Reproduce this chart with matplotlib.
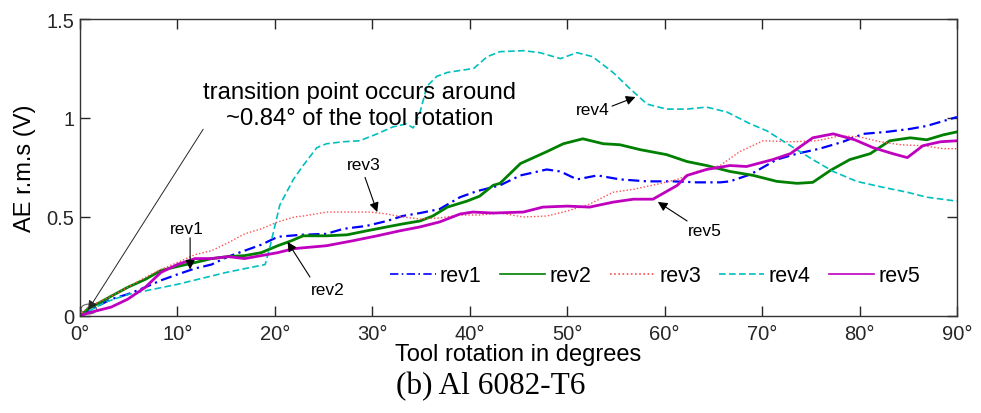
import matplotlib
matplotlib.use("Agg")
import matplotlib.pyplot as plt
from matplotlib.patches import Ellipse

# Tool rotation (degrees) and AE r.m.s. (V) for each revolution
rev1_deg = [0, 0.8, 3.2, 4.9, 6.7, 8.3, 10, 11.8, 13.5, 15.2, 16.9, 18.6, 20.3, 22.6, 25.3, 27,
            29.4, 31.5, 33.1, 34.9, 36.9, 39, 40.7, 43.1, 45.2, 47.9, 49.3, 51, 53.1, 55.4, 58.2,
            60.9, 63.3, 65.7, 66.7, 68.8, 71.5, 73.6, 75.9, 78.3, 80.4, 82.8, 85.2, 86.9, 90]
rev1_ae = [0.0, 0.025, 0.085, 0.11, 0.145, 0.18, 0.21, 0.24, 0.26, 0.30, 0.33, 0.36, 0.40, 0.41,
           0.415, 0.44, 0.455, 0.48, 0.505, 0.52, 0.54, 0.60, 0.63, 0.66, 0.71, 0.74, 0.73, 0.69,
           0.71, 0.69, 0.68, 0.68, 0.675, 0.675, 0.68, 0.715, 0.79, 0.82, 0.845, 0.88, 0.92, 0.93,
           0.945, 0.96, 1.005]

rev2_deg = [0, 0.8, 3.2, 4.9, 6.7, 8.3, 10, 11.8, 13.5, 15.2, 16.9, 18.6, 20.3, 21.7, 22.9, 25.3,
            27.4, 29.4, 31.5, 33.1, 34.9, 36.2, 37.7, 39.7, 41, 42.4, 43.1, 45.2, 47.9, 49.6, 51.6,
            53.7, 55.4, 57.5, 60.2, 62.3, 64.3, 66.7, 69.1, 71.5, 73.6, 75.2, 77, 79, 81.1, 83.1,
            85.2, 86.9, 88.6, 90]
rev2_ae = [0.0, 0.035, 0.10, 0.145, 0.185, 0.23, 0.25, 0.27, 0.29, 0.30, 0.305, 0.32, 0.355, 0.38,
           0.405, 0.405, 0.41, 0.43, 0.45, 0.465, 0.48, 0.505, 0.55, 0.58, 0.605, 0.66, 0.67, 0.77,
           0.83, 0.87, 0.895, 0.87, 0.865, 0.84, 0.815, 0.78, 0.76, 0.73, 0.71, 0.68, 0.67, 0.675,
           0.735, 0.79, 0.82, 0.885, 0.90, 0.89, 0.915, 0.93]

rev3_deg = [0, 0.8, 3.2, 4.9, 6.7, 8.3, 10, 11.8, 13.5, 15.2, 16.9, 18.6, 20.3, 22, 22.9, 25.3,
            27.4, 29.8, 31.5, 33.1, 34.9, 36.9, 39, 41, 43.1, 45.5, 47.9, 50, 52.3, 54.7, 56.8,
            59.2, 61.3, 63.3, 65.7, 67.7, 70.1, 72.9, 75.6, 78, 80, 82.1, 84.2, 86.5, 88.6, 90]
rev3_ae = [0.0, 0.045, 0.10, 0.145, 0.195, 0.235, 0.27, 0.31, 0.33, 0.37, 0.415, 0.44, 0.475, 0.50,
           0.505, 0.525, 0.525, 0.525, 0.515, 0.50, 0.49, 0.495, 0.51, 0.51, 0.52, 0.50, 0.505,
           0.53, 0.565, 0.625, 0.64, 0.665, 0.69, 0.73, 0.76, 0.83, 0.885, 0.88, 0.885, 0.91, 0.905,
           0.88, 0.865, 0.86, 0.845, 0.845]

rev4_deg = [0, 2.6, 5, 10, 15, 19, 19.5, 20.5, 21.9, 22.9, 24.3, 25.3, 27, 28.7, 30.5, 32.1, 33.5,
            34.2, 34.9, 35.6, 36.6, 37.7, 39, 40.4, 41.8, 43.1, 45.5, 47.2, 49.3, 51, 52.6, 54.7,
            56.4, 58.2, 60.2, 62.3, 64.3, 66.4, 68.8, 70.5, 72.9, 75.2, 77.3, 79.7, 82.4, 84.9,
            86.9, 90]
rev4_ae = [0.0, 0.07, 0.11, 0.16, 0.22, 0.26, 0.35, 0.56, 0.69, 0.76, 0.85, 0.87, 0.88, 0.885,
           0.92, 0.955, 0.97, 0.95, 1.03, 1.16, 1.21, 1.23, 1.24, 1.25, 1.31, 1.335, 1.34, 1.33,
           1.30, 1.33, 1.31, 1.23, 1.15, 1.07, 1.045, 1.045, 1.055, 1.03, 0.97, 0.935, 0.86, 0.79,
           0.73, 0.68, 0.65, 0.625, 0.60, 0.58]

rev5_deg = [0, 0.8, 3.2, 4.9, 6.7, 8.3, 10, 11.8, 13.5, 15.2, 16.9, 18.6, 20.3, 21.9, 25.3, 28,
            30.5, 32.8, 34.9, 36.9, 39, 40.3, 42.4, 45.5, 47.5, 50, 52.3, 54.7, 56.8, 58.8, 61.3,
            62.3, 64.3, 66.7, 68.4, 71.1, 72.9, 75.2, 77.3, 79.5, 81.4, 83.4, 84.9, 86.5, 88.3, 90]
rev5_ae = [0.0, 0.015, 0.045, 0.085, 0.145, 0.22, 0.26, 0.29, 0.29, 0.30, 0.29, 0.305, 0.32, 0.34,
           0.355, 0.38, 0.405, 0.43, 0.45, 0.475, 0.515, 0.525, 0.52, 0.525, 0.55, 0.555, 0.55,
           0.575, 0.59, 0.59, 0.66, 0.71, 0.74, 0.76, 0.755, 0.79, 0.82, 0.90, 0.92, 0.89, 0.85,
           0.82, 0.80, 0.86, 0.88, 0.885]

series_names = ["rev1", "rev2", "rev3", "rev4", "rev5"]
x_ticks = [0, 10, 20, 30, 40, 50, 60, 70, 80, 90]
x_tick_labels = ["0°", "10°", "20°", "30°", "40°", "50°", "60°", "70°", "80°", "90°"]
y_ticks = [0, 0.5, 1, 1.5]
y_tick_labels = ["0", "0.5", "1", "1.5"]

SANS = "Liberation Sans"
plt.rcParams["font.family"] = SANS

fig = plt.figure(figsize=(9.81, 4.14), dpi=100)
ax = fig.add_axes([80 / 981, 1 - 317 / 414, 877 / 981, 297 / 414])

styles = [
    dict(color=(0, 0, 1), ls=(0, (5, 2, 1, 2)), lw=1.6),
    dict(color=(0, 0.5, 0), ls="-", lw=2.0),
    dict(color=(1, 0.3, 0.3), ls=(0, (1, 1.5)), lw=1.0),
    dict(color=(0, 0.75, 0.75), ls=(0, (4, 2)), lw=1.2),
    dict(color=(0.75, 0, 0.75), ls="-", lw=2.0),
]
data = [(rev1_deg, rev1_ae), (rev2_deg, rev2_ae), (rev3_deg, rev3_ae),
        (rev4_deg, rev4_ae), (rev5_deg, rev5_ae)]
for (xd, yd), name, st in zip(data, series_names, styles):
    ax.plot(xd, yd, label=name, **st)

ax.set_xlim(0, 90)
ax.set_ylim(0, 1.5)
ax.set_xticks(x_ticks)
ax.set_xticklabels(x_tick_labels)
ax.set_yticks(y_ticks)
ax.set_yticklabels(y_tick_labels)
ax.tick_params(direction="in", length=7, width=1, top=True, right=True,
               labelsize=14.5, colors="0.15")
ax.tick_params(axis="x", pad=6)
ax.tick_params(axis="y", pad=4)
for sp in ax.spines.values():
    sp.set_color("0.2")
    sp.set_linewidth(1.0)

leg = ax.legend(ncol=5, frameon=False, loc="center", bbox_to_anchor=(0.656, 0.135),
                fontsize=15.5, handlelength=2.1, handletextpad=0.2, columnspacing=0.85,
                borderaxespad=0)
for h in leg.get_lines():
    h.set_linewidth(1.2)

# annotations
arrow_kw = dict(arrowstyle="-|>", color="black", lw=0.8, mutation_scale=14)
ax.annotate("transition point occurs around\n~0.84° of the tool rotation",
            xy=(0.82, 0.03), xytext=(28.7, 1.065), ha="center", va="center",
            fontsize=17.2, linespacing=1.25,
            arrowprops=dict(arrowstyle="-|>", color="0.15", lw=0.7, mutation_scale=14,
                            shrinkA=0, shrinkB=0, relpos=(0.0, 0.0),
                            patchA=None))
ax.add_patch(Ellipse((0.9, 0.035), 1.6, 0.05, fill=False, ec="0.4", lw=0.8))

label_fs = 12.5
ax.text(11.0, 0.444, "rev1", ha="center", va="center", fontsize=label_fs)
ax.annotate("", xy=(11.3, 0.235), xytext=(11.3, 0.395),
            arrowprops=dict(**arrow_kw, shrinkA=0, shrinkB=0))
ax.text(25.45, 0.136, "rev2", ha="center", va="center", fontsize=label_fs)
ax.annotate("", xy=(21.3, 0.374), xytext=(23.6, 0.197),
            arrowprops=dict(**arrow_kw, shrinkA=0, shrinkB=0))
ax.text(29.1, 0.763, "rev3", ha="center", va="center", fontsize=label_fs)
ax.annotate("", xy=(30.5, 0.525), xytext=(29.25, 0.70),
            arrowprops=dict(**arrow_kw, shrinkA=0, shrinkB=0))
ax.text(52.6, 1.045, "rev4", ha="center", va="center", fontsize=label_fs)
ax.annotate("", xy=(57.0, 1.106), xytext=(54.6, 1.06),
            arrowprops=dict(**arrow_kw, shrinkA=0, shrinkB=0))
ax.text(64.1, 0.43, "rev5", ha="center", va="center", fontsize=label_fs)
ax.annotate("", xy=(59.3, 0.576), xytext=(62.3, 0.48),
            arrowprops=dict(**arrow_kw, shrinkA=0, shrinkB=0))

fig.text(518 / 981, 1 - 355 / 414, "Tool rotation in degrees", ha="center", va="center",
         fontsize=17)
fig.text(25 / 981, 1 - 168 / 414, "AE r.m.s (V)", ha="center", va="center",
         rotation=90, fontsize=17)
fig.text(491 / 981, 1 - 387 / 414, "(b) Al 6082-T6", ha="center", va="center",
         fontsize=22.5, family="Liberation Serif")

fig.savefig("out.png", dpi=100)
